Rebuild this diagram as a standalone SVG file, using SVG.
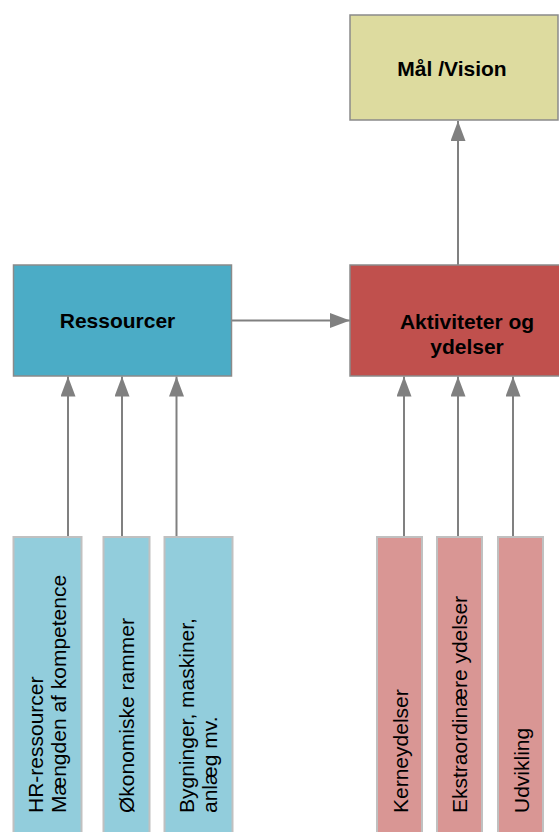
<svg xmlns="http://www.w3.org/2000/svg" width="559" height="832" viewBox="0 0 559 832">
<style>
.top{stroke:#8a8a8a;stroke-width:1.5}
.bot{stroke:#c0c0c0;stroke-width:2}
.tb{font-family:"Liberation Sans",Arial,sans-serif;font-weight:bold;font-size:21px;fill:#000;text-anchor:middle}
.tv{font-family:"Liberation Sans",Arial,sans-serif;font-size:21px;fill:#000}
.cn{stroke:#808080;stroke-width:2;fill:none}
</style>
<defs>
<marker id="ah" markerUnits="userSpaceOnUse" markerWidth="20" markerHeight="15" refX="20" refY="7.5" orient="auto" viewBox="0 0 20 15">
<path d="M0,0 L20,7.5 L0,15 z" fill="#808080"/>
</marker>
</defs>
<rect width="559" height="832" fill="#fff"/>
<g id="connectors">
<line class="cn" x1="458" y1="265" x2="458" y2="121" marker-end="url(#ah)"/>
<line class="cn" x1="232" y1="320.5" x2="350" y2="320.5" marker-end="url(#ah)"/>
<line class="cn" x1="68" y1="537" x2="68" y2="376.5" marker-end="url(#ah)"/>
<line class="cn" x1="122" y1="537" x2="122" y2="376.5" marker-end="url(#ah)"/>
<line class="cn" x1="176.5" y1="537" x2="176.5" y2="376.5" marker-end="url(#ah)"/>
<line class="cn" x1="404" y1="537" x2="404" y2="376.5" marker-end="url(#ah)"/>
<line class="cn" x1="458" y1="537" x2="458" y2="376.5" marker-end="url(#ah)"/>
<line class="cn" x1="513" y1="537" x2="513" y2="376.5" marker-end="url(#ah)"/>
</g>
<g id="maal">
<rect class="top" x="350" y="15" width="208" height="105" fill="#dddb9f"/>
<text class="tb" x="452" y="76">Mål /Vision</text>
</g>
<g id="ressourcer">
<rect class="top" x="13.5" y="265" width="218" height="111" fill="#4bacc6"/>
<text class="tb" x="117.5" y="328">Ressourcer</text>
</g>
<g id="aktiviteter">
<rect class="top" x="350" y="265" width="215" height="111" fill="#c0504d"/>
<text class="tb" x="467" y="329">Aktiviteter og</text>
<text class="tb" x="467" y="354">ydelser</text>
</g>
<g id="hr">
<rect class="bot" x="13.5" y="537" width="68" height="300" fill="#92cddc"/>
<text class="tv" transform="translate(43,813) rotate(-90)">HR-ressourcer</text>
<text class="tv" transform="translate(66,813) rotate(-90)">Mængden af kompetence</text>
</g>
<g id="oekonomi">
<rect class="bot" x="103.5" y="537" width="46" height="300" fill="#92cddc"/>
<text class="tv" transform="translate(134,813) rotate(-90)">Økonomiske rammer</text>
</g>
<g id="bygninger">
<rect class="bot" x="164.5" y="537" width="68" height="300" fill="#92cddc"/>
<text class="tv" transform="translate(194,813) rotate(-90)">Bygninger, maskiner,</text>
<text class="tv" transform="translate(217,813) rotate(-90)">anlæg mv.</text>
</g>
<g id="kerne">
<rect class="bot" x="377" y="537" width="45" height="300" fill="#d99694"/>
<text class="tv" transform="translate(407.5,813) rotate(-90)">Kerneydelser</text>
</g>
<g id="ekstra">
<rect class="bot" x="437" y="537" width="45" height="300" fill="#d99694"/>
<text class="tv" transform="translate(467,813) rotate(-90)">Ekstraordinære ydelser</text>
</g>
<g id="udvikling">
<rect class="bot" x="498" y="537" width="45" height="300" fill="#d99694"/>
<text class="tv" transform="translate(529,813) rotate(-90)">Udvikling</text>
</g>
</svg>
